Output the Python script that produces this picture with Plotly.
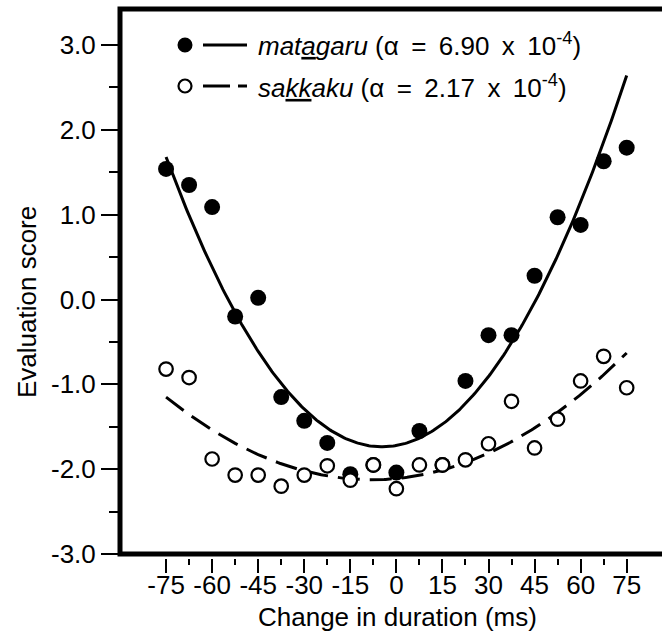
import numpy as np
import plotly.graph_objects as go

# ---------------- data ----------------
duration_ms = [-75, -67.5, -60, -52.5, -45, -37.5, -30, -22.5, -15, -7.5, 0,
               7.5, 15, 22.5, 30, 37.5, 45, 52.5, 60, 67.5, 75]
matagaru = [1.54, 1.35, 1.09, -0.20, 0.02, -1.15, -1.43, -1.69, -2.06, -1.95, -2.04,
            -1.55, -1.95, -0.96, -0.42, -0.42, 0.28, 0.97, 0.88, 1.63, 1.79]
sakkaku = [-0.82, -0.92, -1.88, -2.07, -2.07, -2.20, -2.07, -1.96, -2.13, -1.95, -2.23,
           -1.95, -1.95, -1.89, -1.70, -1.20, -1.75, -1.41, -0.96, -0.67, -1.04]

# quadratic fits  y = alpha * (x - h)^2 + k
fit_matagaru = dict(alpha=6.90e-4, h=-4.64, k=-1.736)
fit_sakkaku = dict(alpha=2.17e-4, h=-8.0, k=-2.125)

x_ticks = [-75, -60, -45, -30, -15, 0, 15, 30, 45, 60, 75]
y_ticks = [-3, -2, -1, 0, 1, 2, 3]

# ---------------- layout geometry (pixels) ----------------
W, H = 662, 638
ML, MR, MT, MB = 120, 0, 9, 80
PW, PH = W - ML - MR, H - MT - MB
FONT = "Liberation Sans, Arial, Helvetica, sans-serif"
FS = 26
TS = "\u2009"  # thin space


def px(xp):
    return (xp - ML) / PW


def py(yp):
    return (H - MB - yp) / PH


xfit = np.linspace(-75, 75, 301)


def quad(p):
    return p["alpha"] * (xfit - p["h"]) ** 2 + p["k"]


fig = go.Figure()
fig.add_trace(go.Scatter(x=xfit, y=quad(fit_matagaru), mode="lines",
                         line=dict(color="black", width=3), showlegend=False,
                         hoverinfo="skip"))
fig.add_trace(go.Scatter(x=xfit, y=quad(fit_sakkaku), mode="lines",
                         line=dict(color="black", width=3, dash="22px,10px"),
                         showlegend=False, hoverinfo="skip"))
fig.add_trace(go.Scatter(x=duration_ms, y=matagaru, mode="markers", name="matagaru",
                         marker=dict(symbol="circle", size=16, color="black",
                                     line=dict(width=0)),
                         showlegend=False))
fig.add_trace(go.Scatter(x=duration_ms, y=sakkaku, mode="markers", name="sakkaku",
                         marker=dict(symbol="circle", size=13.5, color="white",
                                     line=dict(color="black", width=2.2)),
                         showlegend=False))

shapes = []
# frame (top, left, bottom; right side runs off the page)
yb = py(554)
shapes.append(dict(type="path", xref="paper", yref="paper",
                   path=f"M 1.2 {yb} L 0 {yb} L 0 1 L 1.2 1",
                   line=dict(color="black", width=5)))


def circle(cx, cy, d, fill, lw):
    return dict(type="circle", xref="paper", yref="paper",
                x0=px(cx - d / 2), x1=px(cx + d / 2),
                y0=py(cy + d / 2), y1=py(cy - d / 2),
                fillcolor=fill, line=dict(color="black", width=lw))


def seg(x0, x1, y):
    return dict(type="line", xref="paper", yref="paper",
                x0=px(x0), x1=px(x1), y0=py(y), y1=py(y),
                line=dict(color="black", width=3))


shapes.append(circle(185, 45, 15, "black", 0))
shapes.append(seg(203, 247, 45))
shapes.append(circle(185, 86, 13, "white", 2.2))
shapes.append(seg(203, 230, 86))
shapes.append(seg(238, 247, 86))


def legend_text(word, alpha):
    return (f"<i>{word}</i> (α{TS} ={TS} {alpha}{TS} x {TS}10"
            f"<sup>-4</sup>)")


annotations = [
    dict(text=legend_text("mat<u>a</u>garu", "6.90"),
         xref="paper", yref="paper", x=px(256), y=py(45), xanchor="left",
         yanchor="middle", showarrow=False, font=dict(size=FS, family=FONT, color="black")),
    dict(text=legend_text("sa<u>kk</u>aku", "2.17"),
         xref="paper", yref="paper", x=px(256), y=py(86), xanchor="left",
         yanchor="middle", showarrow=False, font=dict(size=FS, family=FONT, color="black")),
    dict(text="Evaluation score", xref="paper", yref="paper", x=px(27), y=py(302),
         xanchor="center", yanchor="middle", textangle=-90, showarrow=False,
         font=dict(size=FS, family=FONT, color="black")),
    dict(text="Change in duration (ms)", xref="paper", yref="paper", x=px(397), y=py(617),
         xanchor="center", yanchor="middle", showarrow=False,
         font=dict(size=FS, family=FONT, color="black")),
]

fig.update_layout(
    width=W, height=H,
    margin=dict(l=ML, r=MR, t=MT, b=MB, pad=0),
    paper_bgcolor="white", plot_bgcolor="white",
    font=dict(family=FONT, size=FS, color="black"),
    shapes=shapes, annotations=annotations,
    showlegend=False,
    xaxis=dict(range=[-90, 86.5], domain=[0, 1], anchor="free", position=0,
               showgrid=False, zeroline=False, showline=False,
               ticks="outside", ticklen=14, tickwidth=2, tickcolor="black",
               tickvals=x_ticks, ticktext=[str(v) for v in x_ticks],
               ticklabelstandoff=-10,
               tickfont=dict(size=FS, family=FONT, color="black"),
               minor=dict(ticks="outside", ticklen=6, tickwidth=2, tickcolor="black",
                          tickvals=[v + 7.5 for v in x_ticks[:-1]], showgrid=False)),
    yaxis=dict(range=[-3, 3.425], domain=[4 / PH, 1],
               showgrid=False, zeroline=False, showline=False,
               ticks="outside", ticklen=18, tickwidth=2, tickcolor="black",
               tickvals=y_ticks, ticktext=[f"{v:.1f}" for v in y_ticks],
               tickfont=dict(size=FS, family=FONT, color="black"),
               minor=dict(ticks="outside", ticklen=10, tickwidth=2, tickcolor="black",
                          tickvals=[v + 0.5 for v in y_ticks[:-1]], showgrid=False)),
)

fig.write_html("out.html")
